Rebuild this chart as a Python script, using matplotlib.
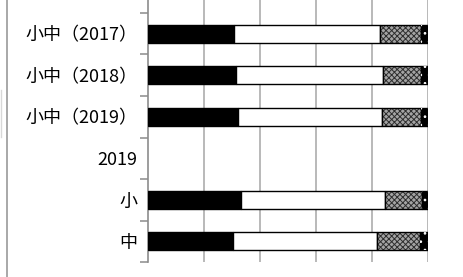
import numpy as np
import matplotlib.pyplot as plt
import matplotlib as mpl
from matplotlib.lines import Line2D

mpl.rcParams.update({
    "font.family": ["Noto Sans CJK JP", "DejaVu Sans"],
    "font.size": 13,
    "hatch.linewidth": 0.7,
})

categories = ["小中（2017）", "小中（2018）", "小中（2019）", "2019", "小", "中"]
# share (%) of each segment, left to right; 2019 is a header row with no bar
seg_black = [30.7, 31.4, 32.0, np.nan, 33.1, 30.2]
seg_white = [52.1, 52.4, 51.6, np.nan, 51.5, 51.6]
seg_check = [14.6, 13.6, 13.8, np.nan, 13.1, 15.2]
seg_dots = [2.6, 2.6, 2.6, np.nan, 2.3, 3.0]

W, H = 463, 277
fig = plt.figure(figsize=(W / 100, H / 100), dpi=100)
# axes runs past the top edge: the image is a crop of a taller chart
ax = fig.add_axes([148 / W, 15 / H, 280 / W, 290.5 / H])

y = np.arange(len(categories))
bh = 0.44
left = np.zeros(len(categories))
ax.barh(y, seg_black, bh, left=left, color="black", edgecolor="black", lw=1.0, zorder=3)
left = left + np.array(seg_black)
ax.barh(y, seg_white, bh, left=left, color="white", edgecolor="black", lw=1.0, zorder=3)
left = left + np.array(seg_white)
ax.barh(y, seg_check, bh, left=left, color="#a4a4a4", edgecolor="#2e2e2e",
        hatch="xxxxxx", lw=0.0, zorder=3)
ax.barh(y, seg_check, bh, left=left, color="none", edgecolor="black", lw=1.0, zorder=4)
left = left + np.array(seg_check)
ax.barh(y, seg_dots, bh, left=left, color="black", edgecolor="black", lw=1.0, zorder=3)
ax.barh(y, seg_dots, bh, left=left, color="none", edgecolor="white",
        hatch="..", lw=0.0, zorder=4)

ax.set_xlim(0, 100)
ax.set_ylim(5.5, -1.5)
ax.set_yticks(y)
ax.set_yticklabels(categories)
ax.set_yticks(np.arange(-0.5, 6, 1), minor=True)
ax.tick_params(axis="y", which="major", length=0, pad=7.5)
ax.tick_params(axis="y", which="minor", length=6, width=1.1, color="#8c8c8c")
ax.set_xticks([20, 40, 60, 80, 100])
ax.tick_params(axis="x", length=0, labelbottom=False)
ax.grid(axis="x", color="#a6a6a6", lw=1.1, zorder=0)

for s in ("top", "right", "bottom"):
    ax.spines[s].set_visible(False)
ax.spines["left"].set_color("#8c8c8c")
ax.spines["left"].set_linewidth(1.2)

# leftover frame edges from the surrounding sheet
fig.add_artist(Line2D([7 / W, 7 / W], [0, 1], color="#9a9a9a", lw=1.2))
fig.add_artist(Line2D([1 / W, 1 / W], [1 - 137 / H, 1 - 90 / H], color="#d8d8d8", lw=1.0))

fig.savefig("out.png", dpi=100, facecolor="white")
